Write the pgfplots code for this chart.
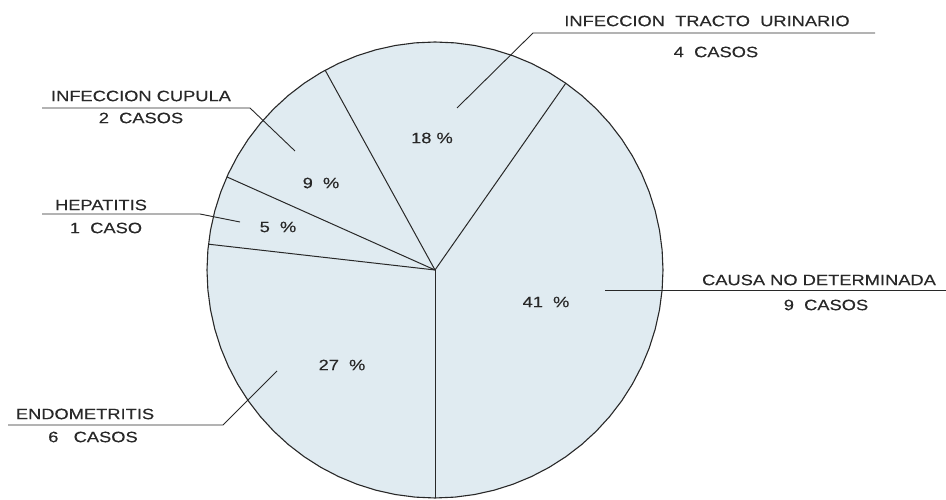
\documentclass[border=0pt]{standalone}
\usepackage{fontspec}
\setmainfont{Liberation Sans}
\newfontfamily\labfont{Liberation Sans}[FakeStretch=1.22, FakeBold=0.3]
\usepackage{pgfplots}
\pgfplotsset{compat=1.18}
\definecolor{piefill}{RGB}{224,235,241}
\definecolor{ink}{RGB}{40,40,40}
\tikzset{lbl/.style={text=ink, font=\labfont\fontsize{15}{17}\selectfont, inner sep=0pt, outer sep=0pt}}
\begin{document}
\begin{tikzpicture}
\begin{axis}[
  name=pie,
  scale only axis, width=946pt, height=500pt,
  xmin=-435, xmax=511, ymin=-230, ymax=270,
  hide axis, clip=false,
]
% circle outline (angle, radius) in polar data
\addplot[data cs=polar, draw=ink, line width=1.1pt, fill=piefill, line join=round] coordinates {
(0,228) (5,228) (10,228) (15,228) (20,228) (25,228) (30,228) (35,228) (40,228) (45,228)
(50,228) (55,228) (60,228) (65,228) (70,228) (75,228) (80,228) (85,228) (90,228) (95,228)
(100,228) (105,228) (110,228) (115,228) (120,228) (125,228) (130,228) (135,228) (140,228) (145,228)
(150,228) (155,228) (160,228) (165,228) (170,228) (175,228) (180,228) (185,228) (190,228) (195,228)
(200,228) (205,228) (210,228) (215,228) (220,228) (225,228) (230,228) (235,228) (240,228) (245,228)
(250,228) (255,228) (260,228) (265,228) (270,228) (275,228) (280,228) (285,228) (290,228) (295,228)
(300,228) (305,228) (310,228) (315,228) (320,228) (325,228) (330,228) (335,228) (340,228) (345,228)
(350,228) (355,228) (360,228)};
% slice boundaries (angle in degrees)
\addplot[data cs=polar, draw=ink, line width=1pt] coordinates {(0,0) (-90,228)};
\addplot[data cs=polar, draw=ink, line width=1pt] coordinates {(0,0) (55.0,228)};
\addplot[data cs=polar, draw=ink, line width=1pt] coordinates {(0,0) (118.8,228)};
\addplot[data cs=polar, draw=ink, line width=1pt] coordinates {(0,0) (155.9,228)};
\addplot[data cs=polar, draw=ink, line width=1pt] coordinates {(0,0) (173.5,228)};
% leader lines
\addplot[draw=ink, line width=0.9pt] coordinates {(22,162) (98,237) (440,237)};
\addplot[draw=ink, line width=0.9pt] coordinates {(-393,162) (-185,162) (-140,119)};
\addplot[draw=ink, line width=0.9pt] coordinates {(-393,56) (-235,56) (-195,48)};
\addplot[draw=ink, line width=0.9pt] coordinates {(170,-20) (511,-20)};
\addplot[draw=ink, line width=0.9pt] coordinates {(-427,-155) (-212,-155) (-158,-101)};
% labels
\node[lbl] at (axis cs:272,249) {INFECCION\ \ TRACTO\ \ URINARIO};
\node[lbl] at (axis cs:281,218) {4\ \ CASOS};
\node[lbl] at (axis cs:-294,174) {INFECCION CUPULA};
\node[lbl] at (axis cs:-294,152) {2\ \ CASOS};
\node[lbl] at (axis cs:-334,65) {HEPATITIS};
\node[lbl] at (axis cs:-329,42) {1\ \ CASO};
\node[lbl] at (axis cs:384,-10) {CAUSA NO DETERMINADA};
\node[lbl] at (axis cs:391,-35) {9\ \ CASOS};
\node[lbl] at (axis cs:-350,-144) {ENDOMETRITIS};
\node[lbl] at (axis cs:-342,-167) {6\ \ \ CASOS};
% percentages
\node[lbl] at (axis cs:-3,132) {18 \%};
\node[lbl] at (axis cs:-114,87) {9\ \ \%};
\node[lbl] at (axis cs:-157,43) {5\ \ \%};
\node[lbl] at (axis cs:111,-32) {41\ \ \%};
\node[lbl] at (axis cs:-93,-95) {27\ \ \%};
\end{axis}
\pgfresetboundingbox
\useasboundingbox (pie.south west) rectangle (pie.north east);
\end{tikzpicture}
\end{document}
